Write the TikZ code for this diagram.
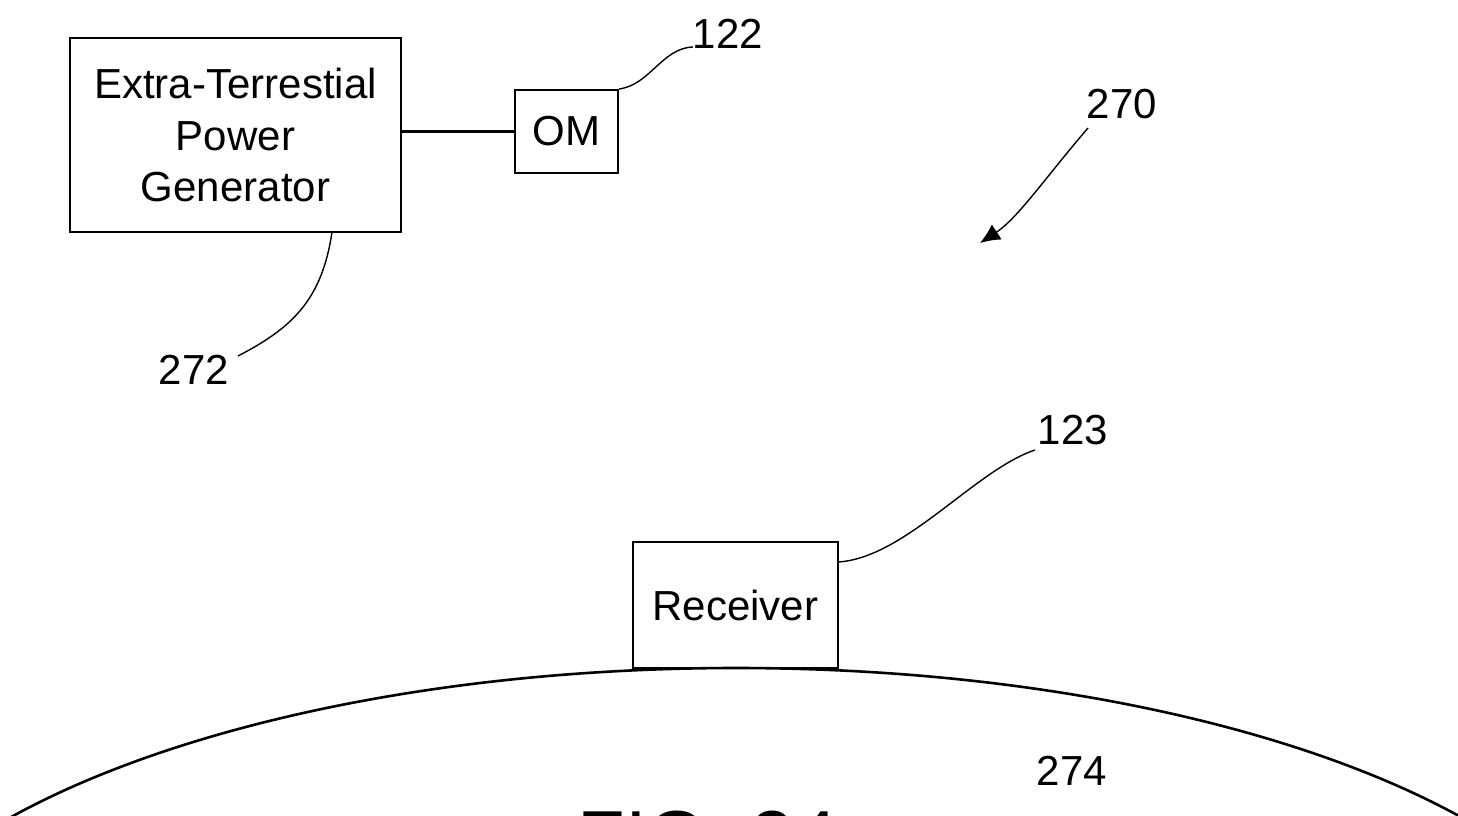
\documentclass[tikz,border=0pt]{standalone}
\usepackage{fontspec}
\setmainfont{Liberation Sans}
\usetikzlibrary{arrows.meta}
\begin{document}
\begin{tikzpicture}[x=0.5pt,y=-0.5pt,
  box/.style={draw,line width=1pt,inner sep=0pt,align=center,font=\fontsize{21}{25.75}\selectfont},
  lbl/.style={inner sep=0pt,font=\fontsize{21}{25}\selectfont},
  leader/.style={line width=0.7pt},
  link/.style={line width=1.2pt}]
\useasboundingbox (0,0) rectangle (1458,815);
\clip (0,0) rectangle (1458,815);
% boxes
\node[box,minimum width=165.5pt,minimum height=97pt] (gen) at (235.5,135) {Extra-Terrestial\\Power\\Generator};
\node[box,minimum width=51.5pt,minimum height=41.5pt] (om) at (566.5,131.5) {OM};
\node[box,minimum width=102.5pt,minimum height=63pt] (rec) at (735.5,605) {Receiver};
\draw[link] (gen.east |- om.west) -- (om.west);
% labels
\node[lbl] (l122) at (728,34) {122};
\node[lbl] (l270) at (1122,104) {270};
\node[lbl] (l272) at (194,370) {272};
\node[lbl] (l123) at (1073,430) {123};
\node[lbl] (l274) at (1072,771) {274};
% leader ends
\coordinate (c122) at (693,47);
\coordinate (c270s) at (1088,128);
\coordinate (c270e) at (980,243);
\coordinate (c272) at (238,356);
\coordinate (g272) at (332,232);
\coordinate (r123) at (838,562);
\coordinate (c123) at (1035,450);
\draw[leader] (om.north east) .. controls (650,85) and (662,48) .. (c122);
\draw[leader,-{Latex[length=10pt,width=9pt]}] (c270s) .. controls (1045,178) and (1018,218) .. (c270e);
\draw[leader] (c272) .. controls (292,328) and (322,300) .. (g272);
\draw[leader] (r123) .. controls (905,558) and (975,470) .. (c123);
% earth
\draw[line width=1.3pt] (736,1034) ellipse [x radius=450pt, y radius=183pt];
\node[anchor=base west,inner sep=0pt,font=\fontsize{39}{44}\selectfont] (fig) at (577,865) {FIG. 24};
\end{tikzpicture}
\end{document}
